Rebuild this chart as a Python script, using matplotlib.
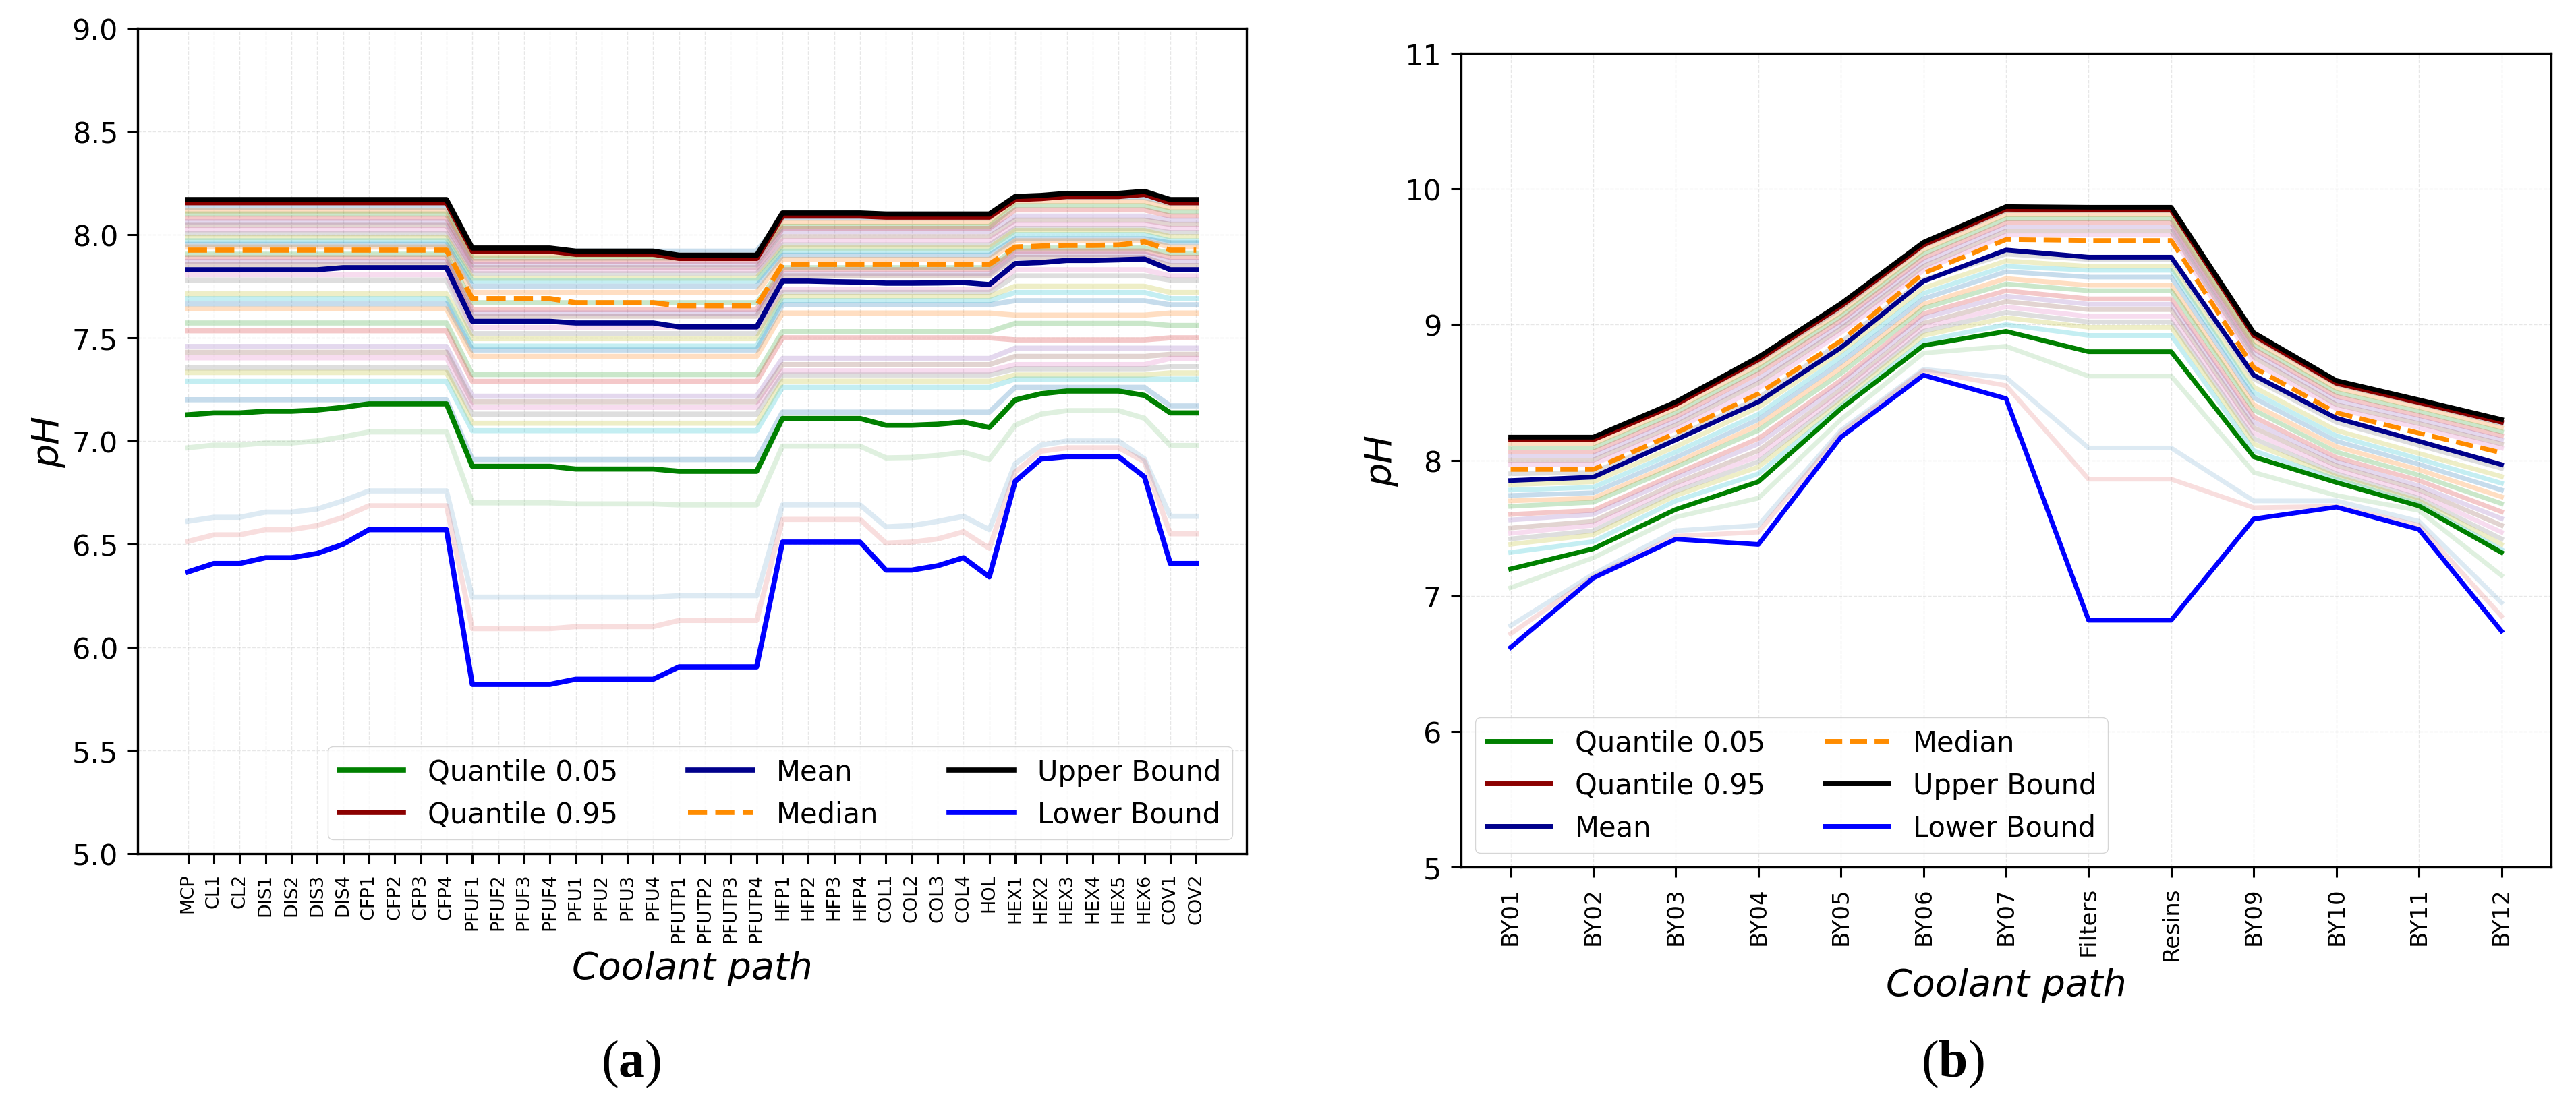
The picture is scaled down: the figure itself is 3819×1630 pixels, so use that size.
import numpy as np
import matplotlib
matplotlib.use('Agg')
import matplotlib.pyplot as plt

plt.rcParams['font.family'] = ['DejaVu Sans']
plt.rcParams['mathtext.fontset'] = 'custom'
plt.rcParams['mathtext.rm'] = 'Liberation Serif'
plt.rcParams['mathtext.bf'] = 'Liberation Serif:bold'

# ---------------- panel (a) ----------------
cats_a = ['MCP', 'CL1', 'CL2', 'DIS1', 'DIS2', 'DIS3', 'DIS4', 'CFP1', 'CFP2', 'CFP3', 'CFP4',
          'PFUF1', 'PFUF2', 'PFUF3', 'PFUF4', 'PFU1', 'PFU2', 'PFU3', 'PFU4',
          'PFUTP1', 'PFUTP2', 'PFUTP3', 'PFUTP4', 'HFP1', 'HFP2', 'HFP3', 'HFP4',
          'COL1', 'COL2', 'COL3', 'COL4', 'HOL', 'HEX1', 'HEX2', 'HEX3', 'HEX4', 'HEX5', 'HEX6',
          'COV1', 'COV2']

upper_a = [8.17] * 11 + [7.935] * 4 + [7.92] * 4 + [7.90] * 4 + [8.105] * 4 + [8.10] * 5 + \
          [8.185, 8.19, 8.20, 8.20, 8.20, 8.21, 8.17, 8.17]
q95_a = [8.155] * 11 + [7.92] * 4 + [7.905] * 4 + [7.885] * 4 + [8.09] * 4 + [8.085] * 5 + \
        [8.17, 8.175, 8.185, 8.185, 8.185, 8.195, 8.155, 8.155]
median_a = [7.925] * 11 + [7.69] * 4 + [7.67] * 4 + [7.655] * 4 + [7.856] * 9 + \
           [7.94, 7.945, 7.948, 7.948, 7.95, 7.965, 7.925, 7.925]
mean_a = [7.83] * 6 + [7.84] * 5 + [7.58] * 4 + [7.572] * 4 + [7.553] * 4 + \
         [7.775, 7.775, 7.772, 7.77, 7.765, 7.765, 7.766, 7.768, 7.758] + \
         [7.86, 7.865, 7.875, 7.875, 7.878, 7.882, 7.83, 7.83]
q05_a = [7.127, 7.136, 7.136, 7.144, 7.144, 7.15, 7.163, 7.18, 7.18, 7.18, 7.18,
         6.877, 6.877, 6.877, 6.877, 6.864, 6.864, 6.864, 6.864, 6.853, 6.853, 6.853, 6.853,
         7.109, 7.109, 7.109, 7.109, 7.076, 7.076, 7.081, 7.092, 7.065,
         7.199, 7.229, 7.242, 7.242, 7.242, 7.221, 7.136, 7.136]
lower_a = [6.365, 6.406, 6.406, 6.434, 6.434, 6.455, 6.499, 6.57, 6.57, 6.57, 6.57,
           5.82, 5.82, 5.82, 5.82, 5.845, 5.845, 5.845, 5.845, 5.905, 5.905, 5.905, 5.905,
           6.51, 6.51, 6.51, 6.51, 6.374, 6.374, 6.395, 6.434, 6.341,
           6.804, 6.913, 6.924, 6.924, 6.924, 6.826, 6.406, 6.406]

# faint single runs below the 5% quantile
run_green_a = [6.967, 6.98, 6.98, 6.99, 6.99, 7.0, 7.02, 7.044, 7.044, 7.044, 7.044,
               6.70, 6.70, 6.70, 6.70, 6.695, 6.695, 6.695, 6.695, 6.69, 6.69, 6.69, 6.69,
               6.975, 6.975, 6.975, 6.975, 6.918, 6.92, 6.93, 6.945, 6.91,
               7.076, 7.13, 7.147, 7.147, 7.147, 7.11, 6.978, 6.978]
run_blue_a = [6.611, 6.63, 6.63, 6.655, 6.655, 6.67, 6.71, 6.758, 6.758, 6.758, 6.758,
              6.243, 6.243, 6.243, 6.243, 6.243, 6.243, 6.243, 6.243, 6.25, 6.25, 6.25, 6.25,
              6.69, 6.69, 6.69, 6.69, 6.584, 6.59, 6.61, 6.635, 6.57,
              6.89, 6.98, 7.0, 7.0, 7.0, 6.913, 6.635, 6.635]
run_red_a = [6.513, 6.545, 6.545, 6.57, 6.57, 6.59, 6.63, 6.686, 6.686, 6.686, 6.686,
             6.09, 6.09, 6.09, 6.09, 6.10, 6.10, 6.10, 6.10, 6.13, 6.13, 6.13, 6.13,
             6.62, 6.62, 6.62, 6.62, 6.505, 6.51, 6.525, 6.56, 6.48,
             6.85, 6.95, 6.967, 6.967, 6.967, 6.90, 6.55, 6.55]

# faint runs inside the band, one level per flat stretch of the path
seg_a = [11, 12, 9, 6, 2]
band_a_p1 = [8.133, 8.115, 8.10, 8.08, 8.062, 8.045, 8.024, 8.005, 7.986, 7.97, 7.953, 7.94,
             7.905, 7.888, 7.87, 7.855,
             7.806, 7.78, 7.713, 7.69, 7.664, 7.64, 7.572, 7.534, 7.458, 7.43, 7.403, 7.354,
             7.332, 7.289, 7.20]
band_a_p2 = [7.92, 7.90, 7.887, 7.87, 7.855, 7.84, 7.827, 7.81, 7.789, 7.775, 7.75, 7.72,
             7.67, 7.637, 7.62, 7.605,
             7.55, 7.52, 7.496, 7.46, 7.441, 7.41, 7.322, 7.289, 7.217, 7.19, 7.163, 7.13,
             7.086, 7.05, 6.91]
band_a_p3 = [8.08, 8.06, 8.04, 8.03, 8.015, 7.99, 7.97, 7.95, 7.935, 7.92, 7.90, 7.88,
             7.84, 7.83, 7.81, 7.80,
             7.735, 7.72, 7.70, 7.68, 7.66, 7.62, 7.53, 7.50, 7.40, 7.37, 7.34, 7.32,
             7.29, 7.26, 7.14]
band_a_p4 = [8.18, 8.16, 8.14, 8.12, 8.09, 8.07, 8.05, 8.03, 8.02, 8.00, 7.98, 7.97,
             7.935, 7.92, 7.905, 7.89,
             7.83, 7.80, 7.75, 7.72, 7.68, 7.61, 7.57, 7.49, 7.45, 7.41, 7.37, 7.35,
             7.32, 7.30, 7.26]
band_a_end = [8.15, 8.13, 8.11, 8.09, 8.07, 8.05, 8.03, 8.01, 7.99, 7.97, 7.96, 7.94,
              7.91, 7.89, 7.87, 7.85,
              7.80, 7.78, 7.72, 7.69, 7.66, 7.62, 7.56, 7.50, 7.45, 7.42, 7.40, 7.36,
              7.33, 7.30, 7.17]

# ---------------- panel (b) ----------------
cats_b = ['BY01', 'BY02', 'BY03', 'BY04', 'BY05', 'BY06', 'BY07', 'Filters', 'Resins',
          'BY09', 'BY10', 'BY11', 'BY12']
upper_b = [8.17, 8.17, 8.43, 8.76, 9.155, 9.607, 9.87, 9.865, 9.865, 8.94, 8.587, 8.445, 8.30]
q95_b = [8.15, 8.15, 8.41, 8.74, 9.135, 9.587, 9.85, 9.845, 9.845, 8.92, 8.567, 8.425, 8.28]
median_b = [7.932, 7.932, 8.20, 8.49, 8.88, 9.378, 9.627, 9.62, 9.62, 8.683, 8.35, 8.20, 8.055]
mean_b = [7.85, 7.875, 8.15, 8.43, 8.83, 9.32, 9.55, 9.497, 9.497, 8.627, 8.31, 8.14, 7.968]
q05_b = [7.198, 7.347, 7.637, 7.841, 8.38, 8.846, 8.95, 8.80, 8.80, 8.025, 7.836, 7.663, 7.32]
lower_b = [6.62, 7.131, 7.418, 7.379, 8.17, 8.627, 8.454, 6.82, 6.82, 7.567, 7.654, 7.49, 6.74]

run_green_b = [7.06, 7.28, 7.58, 7.72, 8.30, 8.79, 8.84, 8.62, 8.62, 7.91, 7.74, 7.63, 7.15]
run_blue_b = [6.78, 7.16, 7.48, 7.52, 8.22, 8.67, 8.61, 8.09, 8.09, 7.70, 7.70, 7.55, 6.95]
run_red_b = [6.72, 7.14, 7.44, 7.47, 8.20, 8.66, 8.55, 7.86, 7.86, 7.65, 7.66, 7.52, 6.85]

# faint runs inside the band: one row per location, one column per run
band_b = [
    [8.15, 8.12, 8.09, 8.06, 8.03, 8.00, 7.97, 7.90, 7.82, 7.78, 7.74, 7.70, 7.66, 7.60, 7.56, 7.50, 7.46, 7.42, 7.38, 7.32],
    [8.15, 8.12, 8.09, 8.06, 8.03, 8.00, 7.97, 7.91, 7.84, 7.80, 7.76, 7.72, 7.69, 7.63, 7.60, 7.55, 7.52, 7.48, 7.45, 7.40],
    [8.41, 8.38, 8.35, 8.32, 8.29, 8.26, 8.23, 8.17, 8.10, 8.06, 8.02, 7.98, 7.95, 7.90, 7.87, 7.83, 7.80, 7.77, 7.74, 7.70],
    [8.73, 8.70, 8.67, 8.64, 8.60, 8.57, 8.53, 8.46, 8.39, 8.34, 8.30, 8.26, 8.22, 8.16, 8.12, 8.07, 8.03, 7.99, 7.95, 7.90],
    [9.12, 9.09, 9.06, 9.03, 9.00, 8.97, 8.94, 8.87, 8.80, 8.76, 8.72, 8.68, 8.64, 8.59, 8.56, 8.52, 8.49, 8.46, 8.43, 8.40],
    [9.58, 9.55, 9.52, 9.49, 9.46, 9.43, 9.40, 9.33, 9.27, 9.23, 9.19, 9.15, 9.12, 9.08, 9.05, 9.01, 8.98, 8.95, 8.92, 8.88],
    [9.84, 9.81, 9.78, 9.75, 9.72, 9.69, 9.66, 9.52, 9.47, 9.43, 9.39, 9.34, 9.30, 9.25, 9.21, 9.17, 9.13, 9.09, 9.05, 9.00],
    [9.84, 9.81, 9.78, 9.75, 9.72, 9.69, 9.66, 9.48, 9.43, 9.40, 9.35, 9.29, 9.25, 9.19, 9.15, 9.11, 9.06, 9.02, 8.98, 8.92],
    [9.84, 9.81, 9.78, 9.75, 9.72, 9.69, 9.66, 9.48, 9.43, 9.40, 9.35, 9.29, 9.25, 9.19, 9.15, 9.11, 9.06, 9.02, 8.98, 8.92],
    [8.91, 8.88, 8.85, 8.82, 8.79, 8.76, 8.72, 8.60, 8.54, 8.50, 8.46, 8.41, 8.37, 8.32, 8.28, 8.24, 8.20, 8.16, 8.12, 8.07],
    [8.56, 8.53, 8.50, 8.47, 8.44, 8.41, 8.38, 8.28, 8.22, 8.18, 8.14, 8.10, 8.06, 8.02, 7.99, 7.96, 7.93, 7.90, 7.88, 7.86],
    [8.42, 8.39, 8.36, 8.33, 8.30, 8.27, 8.24, 8.11, 8.05, 8.01, 7.97, 7.93, 7.89, 7.85, 7.81, 7.78, 7.75, 7.72, 7.70, 7.68],
    [8.27, 8.24, 8.21, 8.18, 8.15, 8.12, 8.09, 7.94, 7.88, 7.83, 7.78, 7.73, 7.68, 7.62, 7.57, 7.52, 7.47, 7.42, 7.38, 7.34],
]

faint_colors = ['tab:blue', 'tab:orange', 'tab:green', 'tab:red', 'tab:purple',
                'tab:brown', 'tab:pink', 'tab:gray', 'tab:olive', 'tab:cyan']


def draw_panel(ax, cats, band, runs, q05, q95, mean, median, upper, lower, lw, ylim, yticks):
    x = np.arange(len(cats))
    band = np.asarray(band)
    # faint single simulations
    for j in range(band.shape[1]):
        ax.plot(x, band[:, j], color=faint_colors[j % 10], alpha=0.25, lw=lw)
    for vals, col in runs:
        ax.plot(x, vals, color=col, alpha=0.15, lw=lw)
    ax.plot(x, q05, color='green', lw=lw, label='Quantile 0.05')
    ax.plot(x, q95, color='darkred', lw=lw, label='Quantile 0.95')
    ax.plot(x, mean, color='darkblue', lw=lw, label='Mean')
    ax.plot(x, median, color='darkorange', lw=lw, ls='--', label='Median')
    ax.plot(x, upper, color='black', lw=lw, label='Upper Bound')
    ax.plot(x, lower, color='blue', lw=lw, label='Lower Bound')

    ax.set_ylim(*ylim)
    ax.set_yticks(yticks)
    ax.set_xticks(x)
    ax.set_xticklabels(cats, rotation=90)
    ax.grid(True, ls='--', lw=1.0, alpha=0.3)
    ax.set_axisbelow(True)
    for sp in ax.spines.values():
        sp.set_linewidth(2.4)
    ax.tick_params(axis='both', length=10.8, width=2.2, pad=10)
    ax.tick_params(axis='y', labelsize=31)
    ax.set_ylabel('pH', fontsize=40, style='italic', labelpad=6)


fig = plt.figure(figsize=(38.19, 16.31), dpi=100)

ax_a = fig.add_axes([0.0534, 0.2232, 0.4305, 0.7504])
band_a = np.repeat(np.array([band_a_p1, band_a_p2, band_a_p3, band_a_p4, band_a_end]), seg_a, axis=0)
draw_panel(ax_a, cats_a, band_a,
           [(run_green_a, 'tab:green'), (run_blue_a, 'tab:blue'), (run_red_a, 'tab:red')],
           q05_a, q95_a, mean_a, median_a, upper_a, lower_a, 5.5,
           (5, 9), np.arange(5.0, 9.01, 0.5))
ax_a.set_yticklabels([f'{v:.1f}' for v in np.arange(5.0, 9.01, 0.5)])
ax_a.tick_params(axis='x', labelsize=19.5)
ax_a.set_xlabel('Coolant path', fontsize=40, style='italic', labelpad=9)
ax_a.legend(loc='lower right', ncol=3, fontsize=30, handlelength=2.3,
            handletextpad=0.85, columnspacing=2.5)

ax_b = fig.add_axes([0.5672, 0.2109, 0.4231, 0.7400])
draw_panel(ax_b, cats_b, band_b,
           [(run_green_b, 'tab:green'), (run_blue_b, 'tab:blue'), (run_red_b, 'tab:red')],
           q05_b, q95_b, mean_b, median_b, upper_b, lower_b, 5.0,
           (5, 11), np.arange(5, 12, 1))
ax_b.tick_params(axis='x', labelsize=24.5)
ax_b.set_xlabel('Coolant path', fontsize=40, style='italic', labelpad=7)
ax_b.legend(loc='lower left', ncol=2, fontsize=30, handlelength=2.3,
            handletextpad=0.85, columnspacing=2.1)

fig.text(0.245, 0.0325, r'$(\mathbf{a})$', fontsize=56, ha='center', va='center')
fig.text(0.758, 0.0325, r'$(\mathbf{b})$', fontsize=56, ha='center', va='center')

fig.savefig('out.png', dpi=100)
